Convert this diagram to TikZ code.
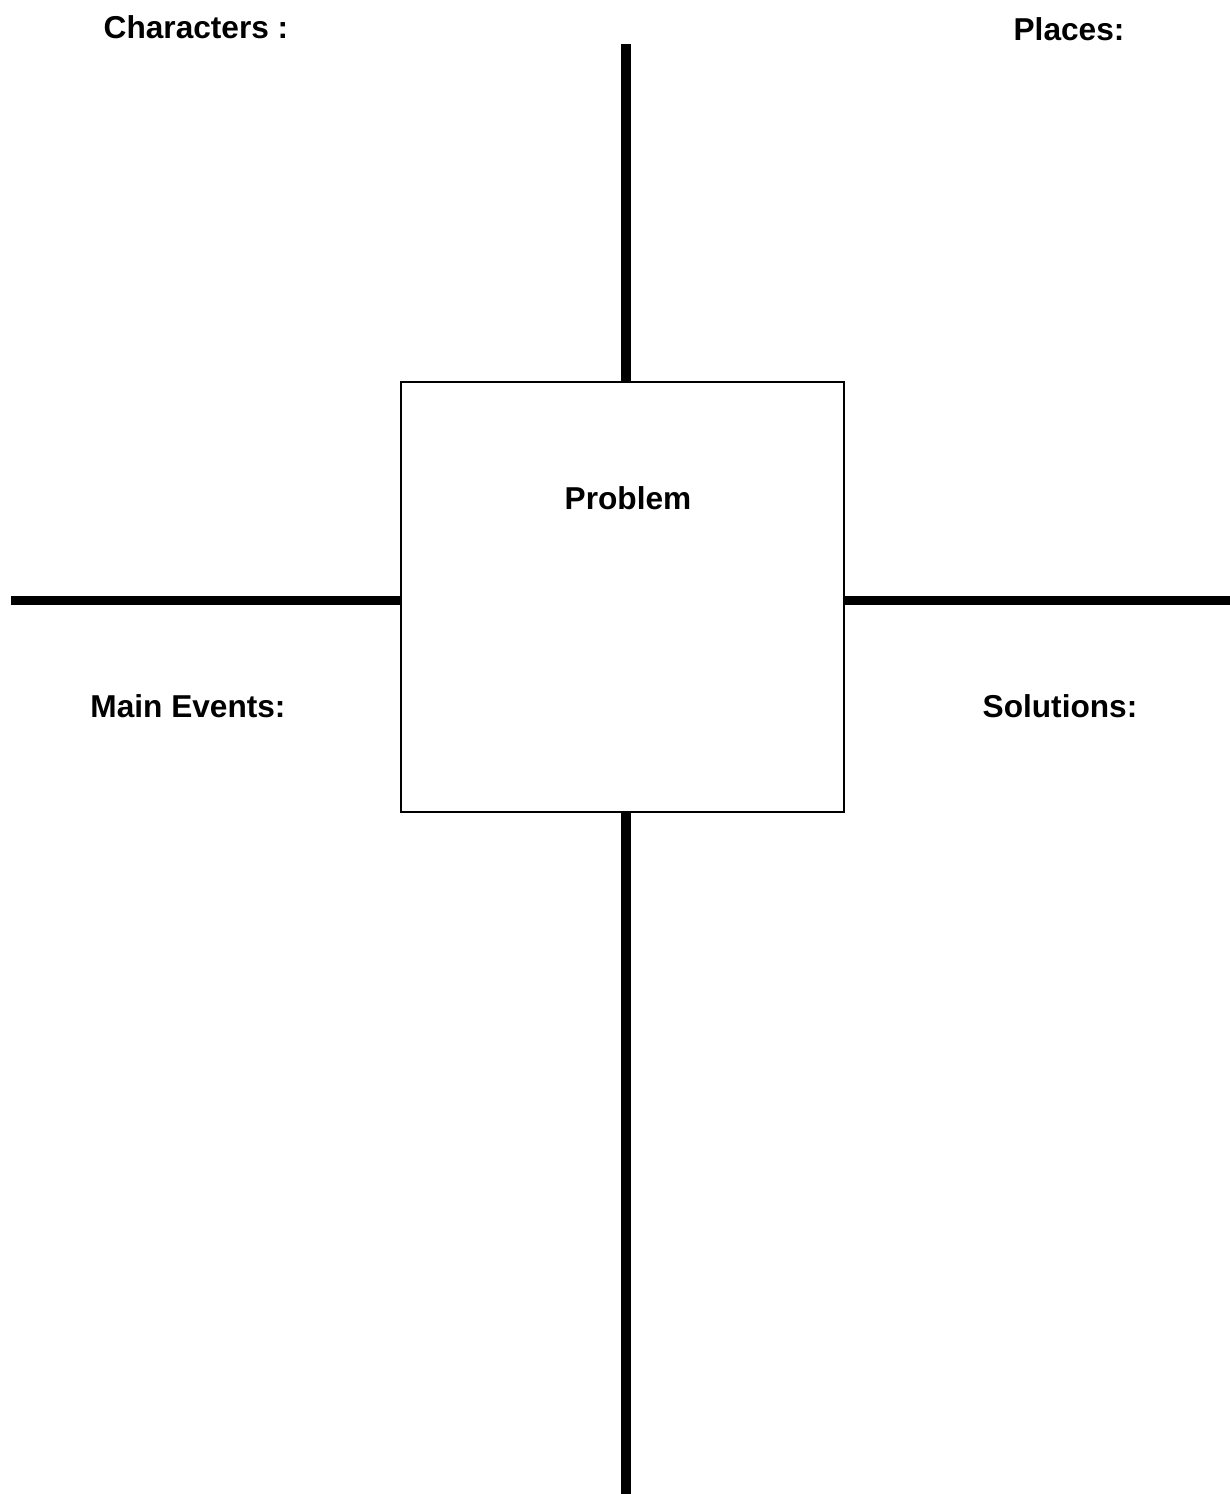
\documentclass[tikz,border=0pt]{standalone}
\usepackage{fontspec}
\setmainfont{Liberation Sans}
\begin{document}
\begin{tikzpicture}[font=\bfseries\fontsize{18}{22}\selectfont,
  arm/.style={line width=5.6pt},
  label/.style={inner sep=0pt}]
  % page frame
  \useasboundingbox (0,0) rectangle (24.6,-29.88);

  % centre box
  \node[draw,line width=1.4pt,minimum width=8.86cm,minimum height=8.6cm] (problembox) at (12.45,-11.94) {};
  \node[label] (problem) at (12.56,-9.96) {Problem};

  % arm ends
  \coordinate (topend) at (12.52,-0.88);
  \coordinate (bottomend) at (12.52,-29.88);
  \coordinate (leftend) at (0.22,-12.01);
  \coordinate (rightend) at (24.6,-12.01);

  % arms
  \draw[arm] (topend) -- (topend |- problembox.north);
  \draw[arm] (bottomend) -- (bottomend |- problembox.south);
  \draw[arm] (leftend) -- (leftend -| problembox.west);
  \draw[arm] (rightend) -- (rightend -| problembox.east);

  % headings
  \node[label] (characters) at (3.92,-0.54) {Characters :};
  \node[label] (places) at (21.38,-0.58) {Places:};
  \node[label] (events) at (3.76,-14.12) {Main Events:};
  \node[label] (solutions) at (21.2,-14.12) {Solutions:};
\end{tikzpicture}
\end{document}
